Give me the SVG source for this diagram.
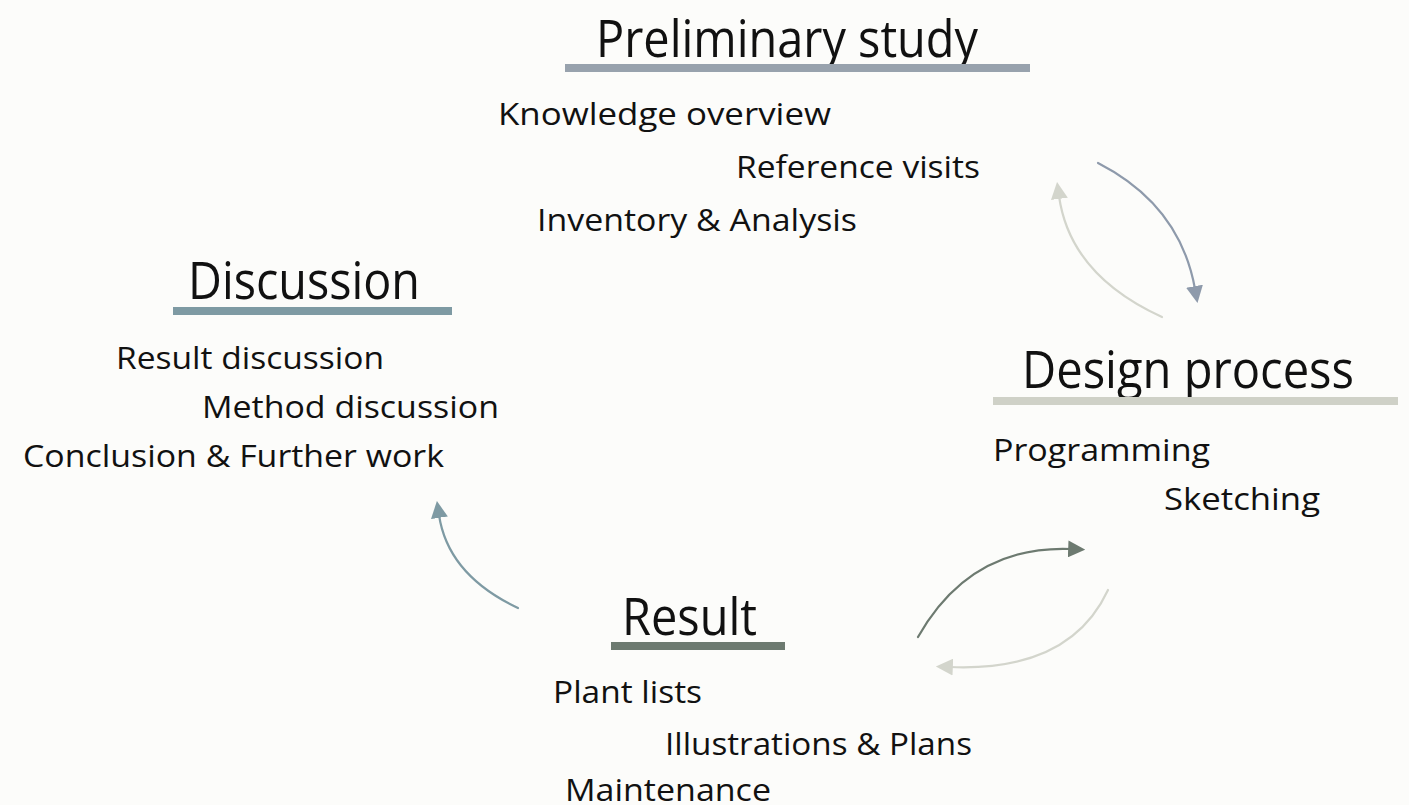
<svg xmlns="http://www.w3.org/2000/svg" width="1409" height="805" viewBox="0 0 1409 805">
  <defs>
    <style>
      .head { font-family: "Open Sans", "Noto Sans", sans-serif; font-size: 51px; fill: #111; }
      .item { font-family: "Open Sans", "Noto Sans", sans-serif; font-size: 31px; fill: #111; }
      .arc { fill: none; stroke-width: 2.2; stroke-linecap: round; }
    </style>
    <marker id="ah-blue" viewBox="0 0 12 12" refX="2" refY="6" markerWidth="17" markerHeight="17" markerUnits="userSpaceOnUse" orient="auto">
      <path d="M0,0 L12,6 L0,12 Z" fill="#8e9aab"/>
    </marker>
    <marker id="ah-light" viewBox="0 0 12 12" refX="2" refY="6" markerWidth="17" markerHeight="17" markerUnits="userSpaceOnUse" orient="auto">
      <path d="M0,0 L12,6 L0,12 Z" fill="#d3d5cc"/>
    </marker>
    <marker id="ah-green" viewBox="0 0 12 12" refX="2" refY="6" markerWidth="17" markerHeight="17" markerUnits="userSpaceOnUse" orient="auto">
      <path d="M0,0 L12,6 L0,12 Z" fill="#6d7a70"/>
    </marker>
    <marker id="ah-teal" viewBox="0 0 12 12" refX="2" refY="6" markerWidth="17" markerHeight="17" markerUnits="userSpaceOnUse" orient="auto">
      <path d="M0,0 L12,6 L0,12 Z" fill="#7e9aa3"/>
    </marker>
  </defs>

  <rect width="1409" height="805" fill="#fcfcfa"/>

  <g id="preliminary-study">
    <text class="head" x="596" y="57" textLength="382" lengthAdjust="spacingAndGlyphs">Preliminary study</text>
    <rect x="565" y="64" width="465" height="8" fill="#98a2ad"/>
    <text class="item" x="498" y="125" textLength="333" lengthAdjust="spacingAndGlyphs">Knowledge overview</text>
    <text class="item" x="736" y="178" textLength="244" lengthAdjust="spacingAndGlyphs">Reference visits</text>
    <text class="item" x="537" y="231" textLength="320" lengthAdjust="spacingAndGlyphs">Inventory &amp; Analysis</text>
  </g>

  <g id="discussion">
    <text class="head" x="188" y="299" textLength="232" lengthAdjust="spacingAndGlyphs">Discussion</text>
    <rect x="173" y="307" width="279" height="8" fill="#7e9aa3"/>
    <text class="item" x="116" y="369" textLength="268" lengthAdjust="spacingAndGlyphs">Result discussion</text>
    <text class="item" x="202" y="418" textLength="297" lengthAdjust="spacingAndGlyphs">Method discussion</text>
    <text class="item" x="23" y="467" textLength="421" lengthAdjust="spacingAndGlyphs">Conclusion &amp; Further work</text>
  </g>

  <g id="design-process">
    <text class="head" x="1022" y="388" textLength="332" lengthAdjust="spacingAndGlyphs">Design process</text>
    <rect x="993" y="397" width="405" height="8" fill="#cfd1c7"/>
    <text class="item" x="993" y="461" textLength="217" lengthAdjust="spacingAndGlyphs">Programming</text>
    <text class="item" x="1164" y="510" textLength="156" lengthAdjust="spacingAndGlyphs">Sketching</text>
  </g>

  <g id="result">
    <text class="head" x="622" y="635" textLength="135" lengthAdjust="spacingAndGlyphs">Result</text>
    <rect x="611" y="642" width="174" height="8" fill="#6d7a70"/>
    <text class="item" x="553" y="703" textLength="149" lengthAdjust="spacingAndGlyphs">Plant lists</text>
    <text class="item" x="665" y="755" textLength="307" lengthAdjust="spacingAndGlyphs">Illustrations &amp; Plans</text>
    <text class="item" x="565" y="801" textLength="206" lengthAdjust="spacingAndGlyphs">Maintenance</text>
  </g>

  <g id="connectors">
    <path class="arc" stroke="#8e9aab" d="M1098,163 Q1180,205 1195,289" marker-end="url(#ah-blue)"/>
    <path class="arc" stroke="#d3d5cc" d="M1162,317 Q1070,275 1059,196" marker-end="url(#ah-light)"/>
    <path class="arc" stroke="#6d7a70" d="M918,637 Q970,545 1071,549" marker-end="url(#ah-green)"/>
    <path class="arc" stroke="#d3d5cc" d="M1108,590 Q1070,672 950,667" marker-end="url(#ah-light)"/>
    <path class="arc" stroke="#7e9aa3" d="M518,608 Q448,575 439,515" marker-end="url(#ah-teal)"/>
  </g>
</svg>
